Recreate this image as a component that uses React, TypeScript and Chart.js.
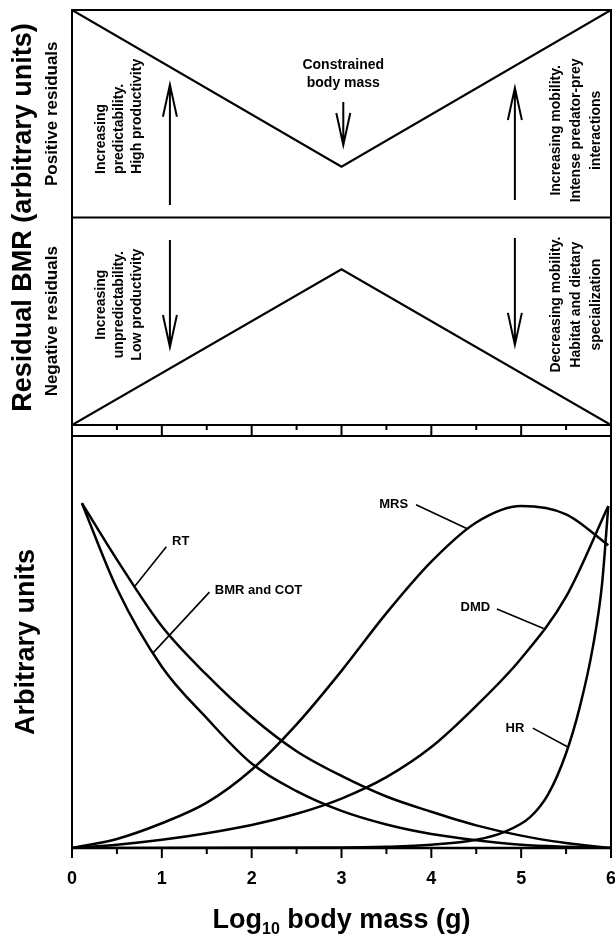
import React, { useEffect, useRef } from "react";
import { Chart, registerables } from "chart.js";
Chart.register(...registerables);

const FONT = "'Liberation Sans', Arial, Helvetica, sans-serif";
const f = (size: number) => `bold ${size}px ${FONT}`;

// ---------- data ----------
const xTickValues = [0, 1, 2, 3, 4, 5, 6];
const xTickLabels = ["0", "1", "2", "3", "4", "5", "6"];
const xMinorTickValues = [0.5, 1.5, 2.5, 3.5, 4.5, 5.5];

// top panel (residual BMR, arbitrary units)
const residualX = [0, 3, 6];
const positiveResidualY = [1, 0.245, 1];
const negativeResidualY = [-1, -0.25, -1];
const dividerX = [0, 6];
const dividerY = [0, 0];

// bottom panel curves (arbitrary units)
const rtX = [0.11, 0.5, 1, 1.5, 2, 2.5, 3, 3.5, 4, 4.5, 5, 5.5, 6];
const rtY = [0.837, 0.7, 0.538, 0.42, 0.318, 0.235, 0.175, 0.125, 0.088, 0.055, 0.03, 0.012, 0];

const bmrX = [0.11, 0.5, 1, 1.5, 2, 2.5, 3, 3.5, 4, 4.5, 5, 5.5, 6];
const bmrY = [0.837, 0.63, 0.44, 0.315, 0.205, 0.138, 0.09, 0.057, 0.034, 0.019, 0.008, 0.003, 0];

const mrsX = [0, 0.5, 1, 1.5, 2, 2.5, 3, 3.5, 4, 4.5, 5, 5.5, 5.97];
const mrsY = [0, 0.022, 0.06, 0.11, 0.19, 0.3, 0.43, 0.57, 0.695, 0.79, 0.83, 0.81, 0.735];

const dmdX = [0, 0.5, 1, 1.5, 2, 2.5, 3, 3.5, 4, 4.5, 5, 5.5, 5.97];
const dmdY = [0, 0.008, 0.02, 0.036, 0.056, 0.083, 0.12, 0.172, 0.245, 0.345, 0.46, 0.61, 0.83];

const hrX = [0, 3, 3.5, 4, 4.5, 4.8, 5.1, 5.3, 5.5, 5.65, 5.8, 5.9, 5.97];
const hrY = [0, 0.001, 0.003, 0.008, 0.02, 0.038, 0.075, 0.13, 0.23, 0.34, 0.49, 0.64, 0.83];

const curveNames = ["RT", "BMR and COT", "MRS", "DMD", "HR"];

// ---------- helpers ----------
const pts = (xs: number[], ys: number[]) => xs.map((x, i) => ({ x, y: ys[i] }));

function arrow(ctx: CanvasRenderingContext2D, x: number, yTail: number, yTip: number) {
  const dir = Math.sign(yTip - yTail);
  ctx.beginPath();
  ctx.moveTo(x, yTail);
  ctx.lineTo(x, yTip);
  ctx.moveTo(x - 7, yTip - dir * 32);
  ctx.lineTo(x, yTip);
  ctx.lineTo(x + 7, yTip - dir * 32);
  ctx.stroke();
}

function rotatedLines(
  ctx: CanvasRenderingContext2D,
  xs: number[],
  yc: number,
  lines: string[],
  font: string,
  align: CanvasTextAlign = "center"
) {
  ctx.font = font;
  ctx.textAlign = align;
  ctx.textBaseline = "middle";
  lines.forEach((t, i) => {
    ctx.save();
    ctx.translate(xs[i], yc);
    ctx.rotate(-Math.PI / 2);
    ctx.fillText(t, 0, 0);
    ctx.restore();
  });
}

const topDecor = {
  id: "topDecor",
  afterDatasetsDraw(chart: any) {
    const { ctx, chartArea: a, scales } = chart;
    const x = scales.x, y = scales.y;
    const X = (v: number) => x.getPixelForValue(v);
    const Y = (v: number) => y.getPixelForValue(v);
    ctx.save();
    ctx.strokeStyle = "#000";
    ctx.fillStyle = "#000";
    ctx.lineWidth = 2;
    ctx.strokeRect(a.left, a.top, a.right - a.left, a.bottom - a.top);
    // tick strip below the panel
    const stripBottom = a.bottom + 11;
    ctx.beginPath();
    ctx.moveTo(a.left, a.bottom);
    ctx.lineTo(a.left, stripBottom);
    ctx.moveTo(a.right, a.bottom);
    ctx.lineTo(a.right, stripBottom);
    xTickValues.forEach((v) => {
      ctx.moveTo(X(v), a.bottom);
      ctx.lineTo(X(v), stripBottom);
    });
    xMinorTickValues.forEach((v) => {
      ctx.moveTo(X(v), a.bottom);
      ctx.lineTo(X(v), a.bottom + 5);
    });
    ctx.stroke();

    // arrows
    ctx.lineWidth = 2;
    arrow(ctx, X(1.09), Y(0.06), Y(0.64));
    arrow(ctx, X(4.93), Y(0.084), Y(0.624));
    arrow(ctx, X(3.02), Y(0.557), Y(0.349));
    arrow(ctx, X(1.09), Y(-0.108), Y(-0.624));
    arrow(ctx, X(4.93), Y(-0.099), Y(-0.614));

    // centre text
    ctx.font = f(14);
    ctx.textAlign = "center";
    ctx.textBaseline = "middle";
    ctx.fillText("Constrained", X(3.02), Y(0.735));
    ctx.fillText("body mass", X(3.02), Y(0.648));

    const leftXs = [0.323, 0.523, 0.724].map(X);
    const rightXs = [5.388, 5.611, 5.833].map(X);
    rotatedLines(ctx, leftXs, Y(0.21), ["Increasing", "predictability.", "High productivity"], f(14), "left");
    rotatedLines(ctx, rightXs, Y(0.42), ["Increasing mobility.", "Intense predator-prey", "interactions"], f(14));
    rotatedLines(ctx, leftXs, Y(-0.42), ["Increasing", "unpredictability.", "Low productivity"], f(14));
    rotatedLines(ctx, rightXs, Y(-0.42), ["Decreasing mobility.", "Habitat and dietary", "specialization"], f(14));

    // axis titles
    rotatedLines(ctx, [24], (a.top + a.bottom) / 2, ["Residual BMR (arbitrary units)"], f(27));
    rotatedLines(ctx, [52], Y(0.5), ["Positive residuals"], f(17));
    rotatedLines(ctx, [52], Y(-0.5), ["Negative residuals"], f(17));
    ctx.restore();
  },
};

const labelSpecs = [
  { text: curveNames[0], tx: 1.21, ty: 0.743, align: "center", l: [1.05, 0.731, 0.69, 0.633] },
  { text: curveNames[1], tx: 1.59, ty: 0.624, align: "left", l: [1.53, 0.621, 0.9, 0.473] },
  { text: curveNames[2], tx: 3.58, ty: 0.833, align: "center", l: [3.83, 0.833, 4.4, 0.775] },
  { text: curveNames[3], tx: 4.49, ty: 0.585, align: "center", l: [4.73, 0.58, 5.25, 0.533] },
  { text: curveNames[4], tx: 4.93, ty: 0.291, align: "center", l: [5.13, 0.291, 5.52, 0.245] },
];

const bottomDecor = {
  id: "bottomDecor",
  afterDatasetsDraw(chart: any) {
    const { ctx, chartArea: a, scales } = chart;
    const x = scales.x, y = scales.y;
    const X = (v: number) => x.getPixelForValue(v);
    const Y = (v: number) => y.getPixelForValue(v);
    ctx.save();
    ctx.strokeStyle = "#000";
    ctx.fillStyle = "#000";
    ctx.lineWidth = 2;
    ctx.beginPath();
    ctx.moveTo(a.left, a.bottom);
    ctx.lineTo(a.left, a.top);
    ctx.lineTo(a.right, a.top);
    ctx.lineTo(a.right, a.bottom);
    ctx.stroke();
    ctx.lineWidth = 2.5;
    ctx.beginPath();
    ctx.moveTo(a.left - 1, a.bottom);
    ctx.lineTo(a.right + 1, a.bottom);
    ctx.stroke();
    ctx.lineWidth = 2;
    ctx.beginPath();
    xTickValues.forEach((v) => {
      ctx.moveTo(X(v), a.bottom);
      ctx.lineTo(X(v), a.bottom + 10);
    });
    xMinorTickValues.forEach((v) => {
      ctx.moveTo(X(v), a.bottom);
      ctx.lineTo(X(v), a.bottom + 6);
    });
    ctx.stroke();

    ctx.font = f(18);
    ctx.textAlign = "center";
    ctx.textBaseline = "middle";
    xTickValues.forEach((v, i) => ctx.fillText(xTickLabels[i], X(v), a.bottom + 31));

    // x title with subscript
    const big = f(27), small = f(16);
    ctx.font = big;
    const w1 = ctx.measureText("Log").width;
    const w3 = ctx.measureText(" body mass (g)").width;
    ctx.font = small;
    const w2 = ctx.measureText("10").width;
    const total = w1 + w2 + w3;
    let cx = (a.left + a.right) / 2 - total / 2;
    const base = a.bottom + 80;
    ctx.textAlign = "left";
    ctx.textBaseline = "alphabetic";
    ctx.font = big;
    ctx.fillText("Log", cx, base);
    cx += w1;
    ctx.font = small;
    ctx.fillText("10", cx, base + 6);
    cx += w2;
    ctx.font = big;
    ctx.fillText(" body mass (g)", cx, base);

    rotatedLines(ctx, [27], (a.top + a.bottom) / 2, ["Arbitrary units"], f(27));

    // curve labels
    ctx.lineWidth = 1.6;
    labelSpecs.forEach((s) => {
      ctx.font = f(13);
      ctx.textAlign = s.align as CanvasTextAlign;
      ctx.textBaseline = "middle";
      ctx.fillText(s.text, X(s.tx), Y(s.ty));
      ctx.beginPath();
      ctx.moveTo(X(s.l[0]), Y(s.l[1]));
      ctx.lineTo(X(s.l[2]), Y(s.l[3]));
      ctx.stroke();
    });
    ctx.restore();
  },
};

const lineDs = (data: any[], w: number) => ({
  data,
  borderColor: "#000",
  borderWidth: w,
  pointRadius: 0,
  fill: false,
  tension: 0,
});

const curveDs = (data: any[]) => ({
  ...lineDs(data, 2.5),
  cubicInterpolationMode: "monotone" as const,
});

export default function App() {
  const topRef = useRef<HTMLCanvasElement>(null);
  const botRef = useRef<HTMLCanvasElement>(null);

  useEffect(() => {
    const top = new Chart(topRef.current!, {
      type: "line",
      data: {
        datasets: [
          lineDs(pts(residualX, positiveResidualY), 2.2),
          lineDs(pts(residualX, negativeResidualY), 2.2),
          lineDs(pts(dividerX, dividerY), 2),
        ],
      },
      options: {
        animation: false,
        responsive: false,
        devicePixelRatio: 1,
        layout: { padding: { left: 72, right: 4, top: 10, bottom: 11 } },
        plugins: { legend: { display: false }, tooltip: { enabled: false } },
        scales: {
          x: { type: "linear", min: 0, max: 6, display: false },
          y: { type: "linear", min: -1, max: 1, display: false },
        },
      },
      plugins: [topDecor],
    });
    const bottom = new Chart(botRef.current!, {
      type: "line",
      data: {
        datasets: [
          curveDs(pts(rtX, rtY)),
          curveDs(pts(bmrX, bmrY)),
          curveDs(pts(mrsX, mrsY)),
          curveDs(pts(dmdX, dmdY)),
          curveDs(pts(hrX, hrY)),
        ],
      },
      options: {
        animation: false,
        responsive: false,
        devicePixelRatio: 1,
        layout: { padding: { left: 72, right: 4, top: 6, bottom: 89 } },
        plugins: { legend: { display: false }, tooltip: { enabled: false } },
        scales: {
          x: { type: "linear", min: 0, max: 6, display: false },
          y: { type: "linear", min: 0, max: 1, display: false },
        },
      },
      plugins: [bottomDecor],
    });
    return () => {
      top.destroy();
      bottom.destroy();
    };
  }, []);

  return (
    <div style={{ position: "absolute", left: 0, top: 0, width: 615, height: 937, background: "#fff" }}>
      <canvas ref={topRef} width={615} height={436} style={{ position: "absolute", left: 0, top: 0, width: 615, height: 436 }} />
      <canvas ref={botRef} width={615} height={507} style={{ position: "absolute", left: 0, top: 430, width: 615, height: 507 }} />
    </div>
  );
}
